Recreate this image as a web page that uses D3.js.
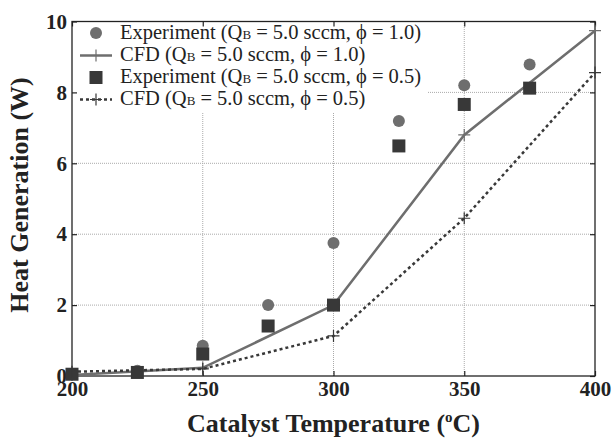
<!DOCTYPE html>
<html><head><meta charset="utf-8">
<script src="https://cdn.jsdelivr.net/npm/d3@7"></script>
<style>body{margin:0;background:#fff}svg{display:block}
text{font-family:"Liberation Serif","DejaVu Serif",serif}</style>
</head><body><svg id="c" width="612" height="440"></svg>
<script>
const expTemps = [200, 225, 250, 275, 300, 325, 350, 375];
const exp10 = [0.05, 0.15, 0.85, 2.0, 3.75, 7.19, 8.2, 8.79];
const exp05 = [0.05, 0.1, 0.62, 1.41, 2.0, 6.49, 7.66, 8.12];
const cfdTemps = [200, 250, 300, 350, 400];
const cfd10 = [0.03, 0.23, 2.0, 6.8, 9.74];
const cfd05 = [0.12, 0.2, 1.13, 4.45, 8.56];
const xTicks = [200, 250, 300, 350, 400];
const yTicks = [0, 2, 4, 6, 8, 10];
const legendLabels = ["1.0", "1.0", "0.5", "0.5"];
const legendNames = ["Experiment", "CFD", "Experiment", "CFD"];

const svg = d3.select("#c");
const m = {l:72, r:17, t:21.5, b:64};
const W = 612, H = 440;
const x = d3.scaleLinear().domain([200,400]).range([m.l, W-m.r]);
const y = d3.scaleLinear().domain([0,10]).range([H-m.b, m.t]);
const serif = "Liberation Serif, DejaVu Serif, serif";

// grid
const g = svg.append("g");
g.selectAll(".vg").data(xTicks.slice(1,-1)).join("line")
  .attr("x1", d=>x(d)).attr("x2", d=>x(d)).attr("y1", y(0)).attr("y2", y(10))
  .attr("stroke","#aaa").attr("stroke-width",1).attr("stroke-dasharray","1,1");
g.selectAll(".hg").data(yTicks.slice(1,-1)).join("line")
  .attr("y1", d=>y(d)).attr("y2", d=>y(d)).attr("x1", x(200)).attr("x2", x(400))
  .attr("stroke","#aaa").attr("stroke-width",1).attr("stroke-dasharray","1,1");

// legend background
svg.append("rect").attr("x", x(200)).attr("y", y(10)).attr("width", 428-x(200)).attr("height", 113-y(10)).attr("fill","#fff");

// axes
function styleAxis(sel){
  sel.attr("font-family", null);
  sel.select(".domain").remove();
  sel.selectAll("line").attr("stroke","#222").attr("stroke-width",1.2);
  sel.selectAll("text").attr("font-family",serif).attr("font-weight","bold").attr("font-size","21px").attr("fill","#222");
}
svg.append("g").attr("transform",`translate(0,${y(0)})`)
  .call(d3.axisBottom(x).tickValues(xTicks).tickSizeInner(-5).tickSizeOuter(0).tickPadding(5).tickFormat(d3.format("d")))
  .call(styleAxis);
svg.append("g").attr("transform",`translate(0,${y(10)})`)
  .call(d3.axisTop(x).tickValues(xTicks).tickSizeInner(-5).tickSizeOuter(0).tickFormat(""))
  .call(styleAxis);
svg.append("g").attr("transform",`translate(${x(200)},0)`)
  .call(d3.axisLeft(y).tickValues(yTicks).tickSizeInner(-5).tickSizeOuter(0).tickPadding(5).tickFormat(d3.format("d")))
  .call(styleAxis);
svg.append("g").attr("transform",`translate(${x(400)},0)`)
  .call(d3.axisRight(y).tickValues(yTicks).tickSizeInner(-5).tickSizeOuter(0).tickFormat(""))
  .call(styleAxis);
svg.append("rect").attr("x",x(200)).attr("y",y(10)).attr("width",x(400)-x(200)).attr("height",y(0)-y(10))
  .attr("fill","none").attr("stroke","#222").attr("stroke-width",1.3);

const cGray = "#6e6e6e", cDark = "#383838";
const line = d3.line().x(d=>x(d[0])).y(d=>y(d[1]));
const plusPath = (cx,cy,s)=>`M${cx-s},${cy}H${cx+s}M${cx},${cy-s}V${cy+s}`;

// circles
svg.append("g").selectAll("circle").data(expTemps.map((t,i)=>[t,exp10[i]])).join("circle")
  .attr("cx",d=>x(d[0])).attr("cy",d=>y(d[1])).attr("r",6).attr("fill",cGray);
// CFD 1.0
const c10 = cfdTemps.map((t,i)=>[t,cfd10[i]]);
svg.append("path").datum(c10).attr("d",line).attr("fill","none").attr("stroke",cGray).attr("stroke-width",2.5);
svg.append("g").selectAll("path").data(c10).join("path")
  .attr("d",d=>plusPath(x(d[0]),y(d[1]),6)).attr("stroke",cGray).attr("stroke-width",1.2);
// squares
svg.append("g").selectAll("rect").data(expTemps.map((t,i)=>[t,exp05[i]])).join("rect")
  .attr("x",d=>x(d[0])-6.5).attr("y",d=>y(d[1])-6.5).attr("width",13).attr("height",13).attr("fill",cDark);
// CFD 0.5
const c05 = cfdTemps.map((t,i)=>[t,cfd05[i]]);
svg.append("path").datum(c05).attr("d",line).attr("fill","none").attr("stroke",cDark).attr("stroke-width",2.5).attr("stroke-dasharray","3,3");
svg.append("g").selectAll("path").data(c05).join("path")
  .attr("d",d=>plusPath(x(d[0]),y(d[1]),6)).attr("stroke",cDark).attr("stroke-width",1.2);

// legend
const lg = svg.append("g");
const rowsY = [33, 55.5, 77.5, 99.5];
const mx = 96;
lg.append("circle").attr("cx",mx).attr("cy",rowsY[0]).attr("r",6).attr("fill",cGray);
lg.append("line").attr("x1",80).attr("x2",112).attr("y1",rowsY[1]).attr("y2",rowsY[1]).attr("stroke",cGray).attr("stroke-width",2.5);
lg.append("path").attr("d",plusPath(mx,rowsY[1],6)).attr("stroke",cGray).attr("stroke-width",1.2);
lg.append("rect").attr("x",mx-6.5).attr("y",rowsY[2]-6.5).attr("width",13).attr("height",13).attr("fill",cDark);
lg.append("line").attr("x1",80).attr("x2",112).attr("y1",rowsY[3]).attr("y2",rowsY[3]).attr("stroke",cDark).attr("stroke-width",2.5).attr("stroke-dasharray","3,3");
lg.append("path").attr("d",plusPath(mx,rowsY[3],6)).attr("stroke",cDark).attr("stroke-width",1.2);
legendNames.forEach((n,i)=>{
  const t = lg.append("text").attr("x",120).attr("y",rowsY[i]+5.5).attr("font-family",serif).attr("font-size","20.5px").attr("fill","#222");
  t.append("tspan").text(n+" (Q");
  t.append("tspan").attr("font-size","13px").text("B");
  t.append("tspan").text(" = 5.0 sccm, \u03D5 = "+legendLabels[i]+")");
});

// axis titles
const xt = svg.append("text").attr("x",(x(200)+x(400))/2).attr("y",432).attr("text-anchor","middle")
  .attr("font-family",serif).attr("font-weight","bold").attr("font-size","26px").attr("fill","#222");
xt.append("tspan").text("Catalyst Temperature (");
xt.append("tspan").attr("font-size","15px").attr("dy",-10).text("o");
xt.append("tspan").attr("dy",10).text("C)");
svg.append("text").attr("transform",`translate(28,195) rotate(-90)`).attr("text-anchor","middle")
  .attr("font-family",serif).attr("font-weight","bold").attr("font-size","26px").attr("fill","#222")
  .text("Heat Generation (W)");
</script></body></html>
